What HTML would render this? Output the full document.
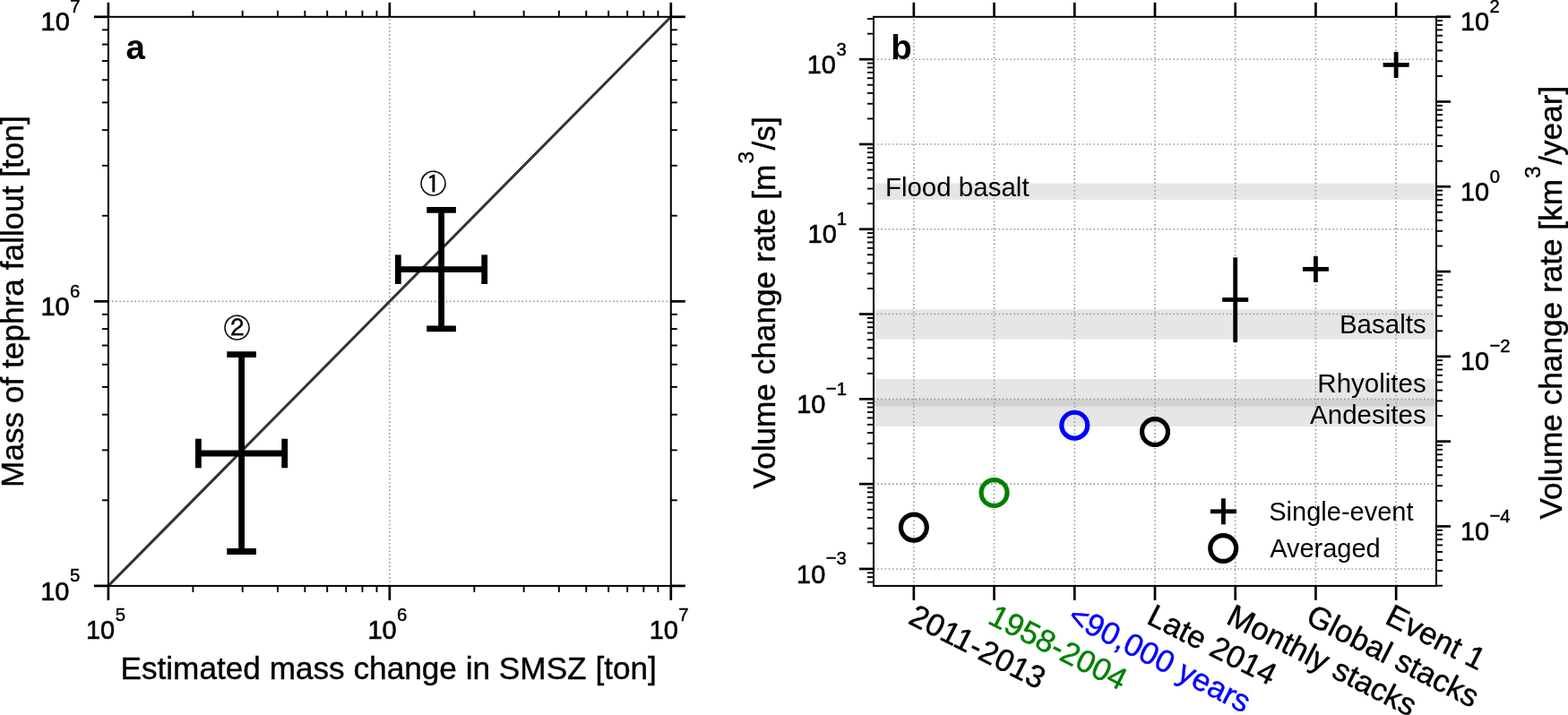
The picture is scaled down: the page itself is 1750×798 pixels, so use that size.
<!DOCTYPE html>
<html><head><meta charset="utf-8"><title>Figure</title>
<style>
html,body{margin:0;padding:0;background:#fff;overflow:hidden;}
svg{display:block;}
text{font-family:'Liberation Sans', Arial, Helvetica, sans-serif;}
</style></head>
<body>
<svg width="1750" height="798" viewBox="0 0 1750 798">
<rect x="0" y="0" width="1750" height="798" fill="#fff"/>
<line x1="434.85" y1="653.9" x2="434.85" y2="18.8" stroke="#9c9c9c" stroke-width="1.6" stroke-dasharray="1.6 2.6356" stroke-dashoffset="0.2"/>
<line x1="120.9" y1="336.35" x2="748.8" y2="336.35" stroke="#9c9c9c" stroke-width="1.6" stroke-dasharray="1.6 2.6356" stroke-dashoffset="0.2"/>
<line x1="120.90" y1="653.90" x2="748.80" y2="18.80" stroke="#333333" stroke-width="3.0" />
<line x1="492.60" y1="234.30" x2="492.60" y2="366.90" stroke="#000" stroke-width="6.8" />
<line x1="444.30" y1="300.70" x2="540.70" y2="300.70" stroke="#000" stroke-width="6.8" />
<line x1="476.30" y1="234.30" x2="508.90" y2="234.30" stroke="#000" stroke-width="6.8" />
<line x1="476.30" y1="366.90" x2="508.90" y2="366.90" stroke="#000" stroke-width="6.8" />
<line x1="444.30" y1="284.40" x2="444.30" y2="317.00" stroke="#000" stroke-width="6.8" />
<line x1="540.70" y1="284.40" x2="540.70" y2="317.00" stroke="#000" stroke-width="6.8" />
<line x1="269.60" y1="395.60" x2="269.60" y2="615.50" stroke="#000" stroke-width="6.8" />
<line x1="221.40" y1="506.00" x2="317.70" y2="506.00" stroke="#000" stroke-width="6.8" />
<line x1="253.30" y1="395.60" x2="285.90" y2="395.60" stroke="#000" stroke-width="6.8" />
<line x1="253.30" y1="615.50" x2="285.90" y2="615.50" stroke="#000" stroke-width="6.8" />
<line x1="221.40" y1="489.70" x2="221.40" y2="522.30" stroke="#000" stroke-width="6.8" />
<line x1="317.70" y1="489.70" x2="317.70" y2="522.30" stroke="#000" stroke-width="6.8" />
<rect x="120.9" y="18.8" width="627.90" height="635.10" fill="none" stroke="#000" stroke-width="2.0"/>
<line x1="120.90" y1="653.90" x2="120.90" y2="669.90" stroke="#000" stroke-width="2.7" />
<line x1="120.90" y1="18.80" x2="120.90" y2="2.80" stroke="#000" stroke-width="2.7" />
<line x1="120.90" y1="653.90" x2="104.90" y2="653.90" stroke="#000" stroke-width="2.7" />
<line x1="748.80" y1="653.90" x2="764.80" y2="653.90" stroke="#000" stroke-width="2.7" />
<line x1="215.41" y1="653.90" x2="215.41" y2="660.90" stroke="#000" stroke-width="1.9" />
<line x1="215.41" y1="18.80" x2="215.41" y2="11.80" stroke="#000" stroke-width="1.9" />
<line x1="120.90" y1="558.31" x2="113.90" y2="558.31" stroke="#000" stroke-width="1.9" />
<line x1="748.80" y1="558.31" x2="755.80" y2="558.31" stroke="#000" stroke-width="1.9" />
<line x1="270.69" y1="653.90" x2="270.69" y2="660.90" stroke="#000" stroke-width="1.9" />
<line x1="270.69" y1="18.80" x2="270.69" y2="11.80" stroke="#000" stroke-width="1.9" />
<line x1="120.90" y1="502.39" x2="113.90" y2="502.39" stroke="#000" stroke-width="1.9" />
<line x1="748.80" y1="502.39" x2="755.80" y2="502.39" stroke="#000" stroke-width="1.9" />
<line x1="309.92" y1="653.90" x2="309.92" y2="660.90" stroke="#000" stroke-width="1.9" />
<line x1="309.92" y1="18.80" x2="309.92" y2="11.80" stroke="#000" stroke-width="1.9" />
<line x1="120.90" y1="462.72" x2="113.90" y2="462.72" stroke="#000" stroke-width="1.9" />
<line x1="748.80" y1="462.72" x2="755.80" y2="462.72" stroke="#000" stroke-width="1.9" />
<line x1="340.34" y1="653.90" x2="340.34" y2="660.90" stroke="#000" stroke-width="1.9" />
<line x1="340.34" y1="18.80" x2="340.34" y2="11.80" stroke="#000" stroke-width="1.9" />
<line x1="120.90" y1="431.94" x2="113.90" y2="431.94" stroke="#000" stroke-width="1.9" />
<line x1="748.80" y1="431.94" x2="755.80" y2="431.94" stroke="#000" stroke-width="1.9" />
<line x1="365.20" y1="653.90" x2="365.20" y2="660.90" stroke="#000" stroke-width="1.9" />
<line x1="365.20" y1="18.80" x2="365.20" y2="11.80" stroke="#000" stroke-width="1.9" />
<line x1="120.90" y1="406.80" x2="113.90" y2="406.80" stroke="#000" stroke-width="1.9" />
<line x1="748.80" y1="406.80" x2="755.80" y2="406.80" stroke="#000" stroke-width="1.9" />
<line x1="386.22" y1="653.90" x2="386.22" y2="660.90" stroke="#000" stroke-width="1.9" />
<line x1="386.22" y1="18.80" x2="386.22" y2="11.80" stroke="#000" stroke-width="1.9" />
<line x1="120.90" y1="385.54" x2="113.90" y2="385.54" stroke="#000" stroke-width="1.9" />
<line x1="748.80" y1="385.54" x2="755.80" y2="385.54" stroke="#000" stroke-width="1.9" />
<line x1="404.43" y1="653.90" x2="404.43" y2="660.90" stroke="#000" stroke-width="1.9" />
<line x1="404.43" y1="18.80" x2="404.43" y2="11.80" stroke="#000" stroke-width="1.9" />
<line x1="120.90" y1="367.12" x2="113.90" y2="367.12" stroke="#000" stroke-width="1.9" />
<line x1="748.80" y1="367.12" x2="755.80" y2="367.12" stroke="#000" stroke-width="1.9" />
<line x1="420.48" y1="653.90" x2="420.48" y2="660.90" stroke="#000" stroke-width="1.9" />
<line x1="420.48" y1="18.80" x2="420.48" y2="11.80" stroke="#000" stroke-width="1.9" />
<line x1="120.90" y1="350.88" x2="113.90" y2="350.88" stroke="#000" stroke-width="1.9" />
<line x1="748.80" y1="350.88" x2="755.80" y2="350.88" stroke="#000" stroke-width="1.9" />
<line x1="434.85" y1="653.90" x2="434.85" y2="669.90" stroke="#000" stroke-width="2.7" />
<line x1="434.85" y1="18.80" x2="434.85" y2="2.80" stroke="#000" stroke-width="2.7" />
<line x1="120.90" y1="336.35" x2="104.90" y2="336.35" stroke="#000" stroke-width="2.7" />
<line x1="748.80" y1="336.35" x2="764.80" y2="336.35" stroke="#000" stroke-width="2.7" />
<line x1="529.36" y1="653.90" x2="529.36" y2="660.90" stroke="#000" stroke-width="1.9" />
<line x1="529.36" y1="18.80" x2="529.36" y2="11.80" stroke="#000" stroke-width="1.9" />
<line x1="120.90" y1="240.76" x2="113.90" y2="240.76" stroke="#000" stroke-width="1.9" />
<line x1="748.80" y1="240.76" x2="755.80" y2="240.76" stroke="#000" stroke-width="1.9" />
<line x1="584.64" y1="653.90" x2="584.64" y2="660.90" stroke="#000" stroke-width="1.9" />
<line x1="584.64" y1="18.80" x2="584.64" y2="11.80" stroke="#000" stroke-width="1.9" />
<line x1="120.90" y1="184.84" x2="113.90" y2="184.84" stroke="#000" stroke-width="1.9" />
<line x1="748.80" y1="184.84" x2="755.80" y2="184.84" stroke="#000" stroke-width="1.9" />
<line x1="623.87" y1="653.90" x2="623.87" y2="660.90" stroke="#000" stroke-width="1.9" />
<line x1="623.87" y1="18.80" x2="623.87" y2="11.80" stroke="#000" stroke-width="1.9" />
<line x1="120.90" y1="145.17" x2="113.90" y2="145.17" stroke="#000" stroke-width="1.9" />
<line x1="748.80" y1="145.17" x2="755.80" y2="145.17" stroke="#000" stroke-width="1.9" />
<line x1="654.29" y1="653.90" x2="654.29" y2="660.90" stroke="#000" stroke-width="1.9" />
<line x1="654.29" y1="18.80" x2="654.29" y2="11.80" stroke="#000" stroke-width="1.9" />
<line x1="120.90" y1="114.39" x2="113.90" y2="114.39" stroke="#000" stroke-width="1.9" />
<line x1="748.80" y1="114.39" x2="755.80" y2="114.39" stroke="#000" stroke-width="1.9" />
<line x1="679.15" y1="653.90" x2="679.15" y2="660.90" stroke="#000" stroke-width="1.9" />
<line x1="679.15" y1="18.80" x2="679.15" y2="11.80" stroke="#000" stroke-width="1.9" />
<line x1="120.90" y1="89.25" x2="113.90" y2="89.25" stroke="#000" stroke-width="1.9" />
<line x1="748.80" y1="89.25" x2="755.80" y2="89.25" stroke="#000" stroke-width="1.9" />
<line x1="700.17" y1="653.90" x2="700.17" y2="660.90" stroke="#000" stroke-width="1.9" />
<line x1="700.17" y1="18.80" x2="700.17" y2="11.80" stroke="#000" stroke-width="1.9" />
<line x1="120.90" y1="67.99" x2="113.90" y2="67.99" stroke="#000" stroke-width="1.9" />
<line x1="748.80" y1="67.99" x2="755.80" y2="67.99" stroke="#000" stroke-width="1.9" />
<line x1="718.38" y1="653.90" x2="718.38" y2="660.90" stroke="#000" stroke-width="1.9" />
<line x1="718.38" y1="18.80" x2="718.38" y2="11.80" stroke="#000" stroke-width="1.9" />
<line x1="120.90" y1="49.57" x2="113.90" y2="49.57" stroke="#000" stroke-width="1.9" />
<line x1="748.80" y1="49.57" x2="755.80" y2="49.57" stroke="#000" stroke-width="1.9" />
<line x1="734.43" y1="653.90" x2="734.43" y2="660.90" stroke="#000" stroke-width="1.9" />
<line x1="734.43" y1="18.80" x2="734.43" y2="11.80" stroke="#000" stroke-width="1.9" />
<line x1="120.90" y1="33.33" x2="113.90" y2="33.33" stroke="#000" stroke-width="1.9" />
<line x1="748.80" y1="33.33" x2="755.80" y2="33.33" stroke="#000" stroke-width="1.9" />
<line x1="748.80" y1="653.90" x2="748.80" y2="669.90" stroke="#000" stroke-width="2.7" />
<line x1="748.80" y1="18.80" x2="748.80" y2="2.80" stroke="#000" stroke-width="2.7" />
<line x1="120.90" y1="18.80" x2="104.90" y2="18.80" stroke="#000" stroke-width="2.7" />
<line x1="748.80" y1="18.80" x2="764.80" y2="18.80" stroke="#000" stroke-width="2.7" />
<text x="0.00" y="0.00" font-size="29.0" transform="translate(45.15 669.50) scale(1 1.04)" stroke="#000" stroke-width="0.6">10</text>
<text x="0.00" y="0.00" font-size="20.3" transform="translate(77.96 649.30) scale(1 1.04)" stroke="#000" stroke-width="0.45">5</text>
<text x="0.00" y="0.00" font-size="29.0" transform="translate(45.41 351.95) scale(1 1.04)" stroke="#000" stroke-width="0.6">10</text>
<text x="0.00" y="0.00" font-size="20.3" transform="translate(78.00 331.75) scale(1 1.04)" stroke="#000" stroke-width="0.45">6</text>
<text x="0.00" y="0.00" font-size="29.0" transform="translate(45.55 34.40) scale(1 1.04)" stroke="#000" stroke-width="0.6">10</text>
<text x="0.00" y="0.00" font-size="20.3" transform="translate(78.13 14.20) scale(1 1.04)" stroke="#000" stroke-width="0.45">7</text>
<text x="0.00" y="0.00" font-size="29.0" transform="translate(95.99 713.10) scale(1 1.04)" stroke="#000" stroke-width="0.6">10</text>
<text x="0.00" y="0.00" font-size="20.3" transform="translate(128.80 692.90) scale(1 1.04)" stroke="#000" stroke-width="0.45">5</text>
<text x="0.00" y="0.00" font-size="29.0" transform="translate(410.39 713.10) scale(1 1.04)" stroke="#000" stroke-width="0.6">10</text>
<text x="0.00" y="0.00" font-size="20.3" transform="translate(442.98 692.90) scale(1 1.04)" stroke="#000" stroke-width="0.45">6</text>
<text x="0.00" y="0.00" font-size="29.0" transform="translate(724.69 713.10) scale(1 1.04)" stroke="#000" stroke-width="0.6">10</text>
<text x="0.00" y="0.00" font-size="20.3" transform="translate(757.27 692.90) scale(1 1.04)" stroke="#000" stroke-width="0.45">7</text>
<text x="134.41" y="757.90" font-size="35.2" stroke="#000" stroke-width="0.4">Estimated mass change in SMSZ [ton]</text>
<text x="0.00" y="0.00" font-size="35.2" stroke="#000" stroke-width="0.4" transform="translate(26.0 543.89) rotate(-90)">Mass of tephra fallout [ton]</text>
<text x="140.47" y="66.30" font-size="38.5" font-weight="bold">a</text>
<text x="483.60" y="215.60" font-size="30.1" text-anchor="middle" stroke="#000" stroke-width="0.25" style="font-family:'Liberation Sans', 'IPAGothic', 'Noto Sans CJK JP', sans-serif">①</text>
<text x="264.50" y="377.00" font-size="30.1" text-anchor="middle" stroke="#000" stroke-width="0.25" style="font-family:'Liberation Sans', 'IPAGothic', 'Noto Sans CJK JP', sans-serif">②</text>
<rect x="975.0" y="204.50" width="628.0" height="18.40" fill="#808080" fill-opacity="0.2"/>
<rect x="975.0" y="345.40" width="628.0" height="33.20" fill="#808080" fill-opacity="0.2"/>
<rect x="975.0" y="422.90" width="628.0" height="30.70" fill="#808080" fill-opacity="0.2"/>
<rect x="975.0" y="445.60" width="628.0" height="30.20" fill="#808080" fill-opacity="0.2"/>
<line x1="1019.86" y1="653.9" x2="1019.86" y2="18.8" stroke="#9c9c9c" stroke-width="1.6" stroke-dasharray="1.6 2.6356" stroke-dashoffset="0.2"/>
<line x1="1109.57" y1="653.9" x2="1109.57" y2="18.8" stroke="#9c9c9c" stroke-width="1.6" stroke-dasharray="1.6 2.6356" stroke-dashoffset="0.2"/>
<line x1="1199.29" y1="653.9" x2="1199.29" y2="18.8" stroke="#9c9c9c" stroke-width="1.6" stroke-dasharray="1.6 2.6356" stroke-dashoffset="0.2"/>
<line x1="1289.00" y1="653.9" x2="1289.00" y2="18.8" stroke="#9c9c9c" stroke-width="1.6" stroke-dasharray="1.6 2.6356" stroke-dashoffset="0.2"/>
<line x1="1378.71" y1="653.9" x2="1378.71" y2="18.8" stroke="#9c9c9c" stroke-width="1.6" stroke-dasharray="1.6 2.6356" stroke-dashoffset="0.2"/>
<line x1="1468.43" y1="653.9" x2="1468.43" y2="18.8" stroke="#9c9c9c" stroke-width="1.6" stroke-dasharray="1.6 2.6356" stroke-dashoffset="0.2"/>
<line x1="1558.14" y1="653.9" x2="1558.14" y2="18.8" stroke="#9c9c9c" stroke-width="1.6" stroke-dasharray="1.6 2.6356" stroke-dashoffset="0.2"/>
<line x1="975.0" y1="634.94" x2="1603.0" y2="634.94" stroke="#9c9c9c" stroke-width="1.6" stroke-dasharray="1.6 2.6356" stroke-dashoffset="0.2"/>
<line x1="975.0" y1="540.15" x2="1603.0" y2="540.15" stroke="#9c9c9c" stroke-width="1.6" stroke-dasharray="1.6 2.6356" stroke-dashoffset="0.2"/>
<line x1="975.0" y1="445.36" x2="1603.0" y2="445.36" stroke="#9c9c9c" stroke-width="1.6" stroke-dasharray="1.6 2.6356" stroke-dashoffset="0.2"/>
<line x1="975.0" y1="350.57" x2="1603.0" y2="350.57" stroke="#9c9c9c" stroke-width="1.6" stroke-dasharray="1.6 2.6356" stroke-dashoffset="0.2"/>
<line x1="975.0" y1="255.78" x2="1603.0" y2="255.78" stroke="#9c9c9c" stroke-width="1.6" stroke-dasharray="1.6 2.6356" stroke-dashoffset="0.2"/>
<line x1="975.0" y1="160.99" x2="1603.0" y2="160.99" stroke="#9c9c9c" stroke-width="1.6" stroke-dasharray="1.6 2.6356" stroke-dashoffset="0.2"/>
<line x1="975.0" y1="66.20" x2="1603.0" y2="66.20" stroke="#9c9c9c" stroke-width="1.6" stroke-dasharray="1.6 2.6356" stroke-dashoffset="0.2"/>
<circle cx="1019.86" cy="588.60" r="14.45" fill="none" stroke="#000" stroke-width="5.2"/>
<circle cx="1109.57" cy="550.00" r="14.45" fill="none" stroke="#008000" stroke-width="5.2"/>
<circle cx="1199.29" cy="474.70" r="14.45" fill="none" stroke="#0000ff" stroke-width="5.2"/>
<circle cx="1289.00" cy="482.00" r="14.45" fill="none" stroke="#000" stroke-width="5.2"/>
<line x1="1378.71" y1="287.30" x2="1378.71" y2="382.00" stroke="#000" stroke-width="4.8" />
<line x1="1364.21" y1="334.50" x2="1393.21" y2="334.50" stroke="#000" stroke-width="4.8" />
<line x1="1453.93" y1="300.40" x2="1482.93" y2="300.40" stroke="#000" stroke-width="4.8" />
<line x1="1468.43" y1="285.90" x2="1468.43" y2="314.90" stroke="#000" stroke-width="4.8" />
<line x1="1543.64" y1="72.40" x2="1572.64" y2="72.40" stroke="#000" stroke-width="4.8" />
<line x1="1558.14" y1="57.90" x2="1558.14" y2="86.90" stroke="#000" stroke-width="4.8" />
<text x="987.88" y="218.70" font-size="29.5">Flood basalt</text>
<text x="1494.93" y="372.00" font-size="29.5">Basalts</text>
<text x="1470.34" y="437.70" font-size="29.5">Rhyolites</text>
<text x="1462.11" y="472.50" font-size="29.5">Andesites</text>
<line x1="1350.90" y1="570.80" x2="1379.90" y2="570.80" stroke="#000" stroke-width="4.8" />
<line x1="1365.40" y1="556.30" x2="1365.40" y2="585.30" stroke="#000" stroke-width="4.8" />
<circle cx="1365.20" cy="612.00" r="14.45" fill="none" stroke="#000" stroke-width="5.2"/>
<text x="1416.28" y="581.30" font-size="29">Single-event</text>
<text x="1417.14" y="621.90" font-size="29">Averaged</text>
<rect x="975.0" y="18.8" width="628.0" height="635.10" fill="none" stroke="#000" stroke-width="2.0"/>
<line x1="1019.86" y1="653.90" x2="1019.86" y2="669.90" stroke="#000" stroke-width="2.7" />
<line x1="1019.86" y1="18.80" x2="1019.86" y2="2.80" stroke="#000" stroke-width="2.7" />
<line x1="1109.57" y1="653.90" x2="1109.57" y2="669.90" stroke="#000" stroke-width="2.7" />
<line x1="1109.57" y1="18.80" x2="1109.57" y2="2.80" stroke="#000" stroke-width="2.7" />
<line x1="1199.29" y1="653.90" x2="1199.29" y2="669.90" stroke="#000" stroke-width="2.7" />
<line x1="1199.29" y1="18.80" x2="1199.29" y2="2.80" stroke="#000" stroke-width="2.7" />
<line x1="1289.00" y1="653.90" x2="1289.00" y2="669.90" stroke="#000" stroke-width="2.7" />
<line x1="1289.00" y1="18.80" x2="1289.00" y2="2.80" stroke="#000" stroke-width="2.7" />
<line x1="1378.71" y1="653.90" x2="1378.71" y2="669.90" stroke="#000" stroke-width="2.7" />
<line x1="1378.71" y1="18.80" x2="1378.71" y2="2.80" stroke="#000" stroke-width="2.7" />
<line x1="1468.43" y1="653.90" x2="1468.43" y2="669.90" stroke="#000" stroke-width="2.7" />
<line x1="1468.43" y1="18.80" x2="1468.43" y2="2.80" stroke="#000" stroke-width="2.7" />
<line x1="1558.14" y1="653.90" x2="1558.14" y2="669.90" stroke="#000" stroke-width="2.7" />
<line x1="1558.14" y1="18.80" x2="1558.14" y2="2.80" stroke="#000" stroke-width="2.7" />
<line x1="975.00" y1="649.63" x2="968.00" y2="649.63" stroke="#000" stroke-width="1.9" />
<line x1="975.00" y1="644.13" x2="968.00" y2="644.13" stroke="#000" stroke-width="1.9" />
<line x1="975.00" y1="639.28" x2="968.00" y2="639.28" stroke="#000" stroke-width="1.9" />
<line x1="975.00" y1="634.94" x2="959.00" y2="634.94" stroke="#000" stroke-width="2.7" />
<line x1="975.00" y1="606.41" x2="968.00" y2="606.41" stroke="#000" stroke-width="1.9" />
<line x1="975.00" y1="589.71" x2="968.00" y2="589.71" stroke="#000" stroke-width="1.9" />
<line x1="975.00" y1="577.87" x2="968.00" y2="577.87" stroke="#000" stroke-width="1.9" />
<line x1="975.00" y1="568.69" x2="968.00" y2="568.69" stroke="#000" stroke-width="1.9" />
<line x1="975.00" y1="561.18" x2="968.00" y2="561.18" stroke="#000" stroke-width="1.9" />
<line x1="975.00" y1="554.83" x2="968.00" y2="554.83" stroke="#000" stroke-width="1.9" />
<line x1="975.00" y1="549.34" x2="968.00" y2="549.34" stroke="#000" stroke-width="1.9" />
<line x1="975.00" y1="544.49" x2="968.00" y2="544.49" stroke="#000" stroke-width="1.9" />
<line x1="975.00" y1="540.15" x2="959.00" y2="540.15" stroke="#000" stroke-width="2.7" />
<line x1="975.00" y1="511.62" x2="968.00" y2="511.62" stroke="#000" stroke-width="1.9" />
<line x1="975.00" y1="494.92" x2="968.00" y2="494.92" stroke="#000" stroke-width="1.9" />
<line x1="975.00" y1="483.08" x2="968.00" y2="483.08" stroke="#000" stroke-width="1.9" />
<line x1="975.00" y1="473.89" x2="968.00" y2="473.89" stroke="#000" stroke-width="1.9" />
<line x1="975.00" y1="466.39" x2="968.00" y2="466.39" stroke="#000" stroke-width="1.9" />
<line x1="975.00" y1="460.04" x2="968.00" y2="460.04" stroke="#000" stroke-width="1.9" />
<line x1="975.00" y1="454.55" x2="968.00" y2="454.55" stroke="#000" stroke-width="1.9" />
<line x1="975.00" y1="449.70" x2="968.00" y2="449.70" stroke="#000" stroke-width="1.9" />
<line x1="975.00" y1="445.36" x2="959.00" y2="445.36" stroke="#000" stroke-width="2.7" />
<line x1="975.00" y1="416.82" x2="968.00" y2="416.82" stroke="#000" stroke-width="1.9" />
<line x1="975.00" y1="400.13" x2="968.00" y2="400.13" stroke="#000" stroke-width="1.9" />
<line x1="975.00" y1="388.29" x2="968.00" y2="388.29" stroke="#000" stroke-width="1.9" />
<line x1="975.00" y1="379.10" x2="968.00" y2="379.10" stroke="#000" stroke-width="1.9" />
<line x1="975.00" y1="371.60" x2="968.00" y2="371.60" stroke="#000" stroke-width="1.9" />
<line x1="975.00" y1="365.25" x2="968.00" y2="365.25" stroke="#000" stroke-width="1.9" />
<line x1="975.00" y1="359.75" x2="968.00" y2="359.75" stroke="#000" stroke-width="1.9" />
<line x1="975.00" y1="354.91" x2="968.00" y2="354.91" stroke="#000" stroke-width="1.9" />
<line x1="975.00" y1="350.57" x2="959.00" y2="350.57" stroke="#000" stroke-width="2.7" />
<line x1="975.00" y1="322.03" x2="968.00" y2="322.03" stroke="#000" stroke-width="1.9" />
<line x1="975.00" y1="305.34" x2="968.00" y2="305.34" stroke="#000" stroke-width="1.9" />
<line x1="975.00" y1="293.50" x2="968.00" y2="293.50" stroke="#000" stroke-width="1.9" />
<line x1="975.00" y1="284.31" x2="968.00" y2="284.31" stroke="#000" stroke-width="1.9" />
<line x1="975.00" y1="276.81" x2="968.00" y2="276.81" stroke="#000" stroke-width="1.9" />
<line x1="975.00" y1="270.46" x2="968.00" y2="270.46" stroke="#000" stroke-width="1.9" />
<line x1="975.00" y1="264.96" x2="968.00" y2="264.96" stroke="#000" stroke-width="1.9" />
<line x1="975.00" y1="260.12" x2="968.00" y2="260.12" stroke="#000" stroke-width="1.9" />
<line x1="975.00" y1="255.78" x2="959.00" y2="255.78" stroke="#000" stroke-width="2.7" />
<line x1="975.00" y1="227.24" x2="968.00" y2="227.24" stroke="#000" stroke-width="1.9" />
<line x1="975.00" y1="210.55" x2="968.00" y2="210.55" stroke="#000" stroke-width="1.9" />
<line x1="975.00" y1="198.71" x2="968.00" y2="198.71" stroke="#000" stroke-width="1.9" />
<line x1="975.00" y1="189.52" x2="968.00" y2="189.52" stroke="#000" stroke-width="1.9" />
<line x1="975.00" y1="182.02" x2="968.00" y2="182.02" stroke="#000" stroke-width="1.9" />
<line x1="975.00" y1="175.67" x2="968.00" y2="175.67" stroke="#000" stroke-width="1.9" />
<line x1="975.00" y1="170.17" x2="968.00" y2="170.17" stroke="#000" stroke-width="1.9" />
<line x1="975.00" y1="165.32" x2="968.00" y2="165.32" stroke="#000" stroke-width="1.9" />
<line x1="975.00" y1="160.99" x2="959.00" y2="160.99" stroke="#000" stroke-width="2.7" />
<line x1="975.00" y1="132.45" x2="968.00" y2="132.45" stroke="#000" stroke-width="1.9" />
<line x1="975.00" y1="115.76" x2="968.00" y2="115.76" stroke="#000" stroke-width="1.9" />
<line x1="975.00" y1="103.92" x2="968.00" y2="103.92" stroke="#000" stroke-width="1.9" />
<line x1="975.00" y1="94.73" x2="968.00" y2="94.73" stroke="#000" stroke-width="1.9" />
<line x1="975.00" y1="87.22" x2="968.00" y2="87.22" stroke="#000" stroke-width="1.9" />
<line x1="975.00" y1="80.88" x2="968.00" y2="80.88" stroke="#000" stroke-width="1.9" />
<line x1="975.00" y1="75.38" x2="968.00" y2="75.38" stroke="#000" stroke-width="1.9" />
<line x1="975.00" y1="70.53" x2="968.00" y2="70.53" stroke="#000" stroke-width="1.9" />
<line x1="975.00" y1="66.20" x2="959.00" y2="66.20" stroke="#000" stroke-width="2.7" />
<line x1="975.00" y1="37.66" x2="968.00" y2="37.66" stroke="#000" stroke-width="1.9" />
<line x1="975.00" y1="20.97" x2="968.00" y2="20.97" stroke="#000" stroke-width="1.9" />
<line x1="1603.00" y1="653.69" x2="1610.00" y2="653.69" stroke="#000" stroke-width="1.9" />
<line x1="1603.00" y1="637.00" x2="1610.00" y2="637.00" stroke="#000" stroke-width="1.9" />
<line x1="1603.00" y1="625.15" x2="1610.00" y2="625.15" stroke="#000" stroke-width="1.9" />
<line x1="1603.00" y1="615.97" x2="1610.00" y2="615.97" stroke="#000" stroke-width="1.9" />
<line x1="1603.00" y1="608.46" x2="1610.00" y2="608.46" stroke="#000" stroke-width="1.9" />
<line x1="1603.00" y1="602.12" x2="1610.00" y2="602.12" stroke="#000" stroke-width="1.9" />
<line x1="1603.00" y1="596.62" x2="1610.00" y2="596.62" stroke="#000" stroke-width="1.9" />
<line x1="1603.00" y1="591.77" x2="1610.00" y2="591.77" stroke="#000" stroke-width="1.9" />
<line x1="1603.00" y1="587.43" x2="1619.00" y2="587.43" stroke="#000" stroke-width="2.7" />
<line x1="1603.00" y1="558.90" x2="1610.00" y2="558.90" stroke="#000" stroke-width="1.9" />
<line x1="1603.00" y1="542.21" x2="1610.00" y2="542.21" stroke="#000" stroke-width="1.9" />
<line x1="1603.00" y1="530.36" x2="1610.00" y2="530.36" stroke="#000" stroke-width="1.9" />
<line x1="1603.00" y1="521.18" x2="1610.00" y2="521.18" stroke="#000" stroke-width="1.9" />
<line x1="1603.00" y1="513.67" x2="1610.00" y2="513.67" stroke="#000" stroke-width="1.9" />
<line x1="1603.00" y1="507.33" x2="1610.00" y2="507.33" stroke="#000" stroke-width="1.9" />
<line x1="1603.00" y1="501.83" x2="1610.00" y2="501.83" stroke="#000" stroke-width="1.9" />
<line x1="1603.00" y1="496.98" x2="1610.00" y2="496.98" stroke="#000" stroke-width="1.9" />
<line x1="1603.00" y1="492.64" x2="1619.00" y2="492.64" stroke="#000" stroke-width="2.7" />
<line x1="1603.00" y1="464.11" x2="1610.00" y2="464.11" stroke="#000" stroke-width="1.9" />
<line x1="1603.00" y1="447.42" x2="1610.00" y2="447.42" stroke="#000" stroke-width="1.9" />
<line x1="1603.00" y1="435.57" x2="1610.00" y2="435.57" stroke="#000" stroke-width="1.9" />
<line x1="1603.00" y1="426.39" x2="1610.00" y2="426.39" stroke="#000" stroke-width="1.9" />
<line x1="1603.00" y1="418.88" x2="1610.00" y2="418.88" stroke="#000" stroke-width="1.9" />
<line x1="1603.00" y1="412.53" x2="1610.00" y2="412.53" stroke="#000" stroke-width="1.9" />
<line x1="1603.00" y1="407.04" x2="1610.00" y2="407.04" stroke="#000" stroke-width="1.9" />
<line x1="1603.00" y1="402.19" x2="1610.00" y2="402.19" stroke="#000" stroke-width="1.9" />
<line x1="1603.00" y1="397.85" x2="1619.00" y2="397.85" stroke="#000" stroke-width="2.7" />
<line x1="1603.00" y1="369.32" x2="1610.00" y2="369.32" stroke="#000" stroke-width="1.9" />
<line x1="1603.00" y1="352.62" x2="1610.00" y2="352.62" stroke="#000" stroke-width="1.9" />
<line x1="1603.00" y1="340.78" x2="1610.00" y2="340.78" stroke="#000" stroke-width="1.9" />
<line x1="1603.00" y1="331.59" x2="1610.00" y2="331.59" stroke="#000" stroke-width="1.9" />
<line x1="1603.00" y1="324.09" x2="1610.00" y2="324.09" stroke="#000" stroke-width="1.9" />
<line x1="1603.00" y1="317.74" x2="1610.00" y2="317.74" stroke="#000" stroke-width="1.9" />
<line x1="1603.00" y1="312.25" x2="1610.00" y2="312.25" stroke="#000" stroke-width="1.9" />
<line x1="1603.00" y1="307.40" x2="1610.00" y2="307.40" stroke="#000" stroke-width="1.9" />
<line x1="1603.00" y1="303.06" x2="1619.00" y2="303.06" stroke="#000" stroke-width="2.7" />
<line x1="1603.00" y1="274.53" x2="1610.00" y2="274.53" stroke="#000" stroke-width="1.9" />
<line x1="1603.00" y1="257.83" x2="1610.00" y2="257.83" stroke="#000" stroke-width="1.9" />
<line x1="1603.00" y1="245.99" x2="1610.00" y2="245.99" stroke="#000" stroke-width="1.9" />
<line x1="1603.00" y1="236.80" x2="1610.00" y2="236.80" stroke="#000" stroke-width="1.9" />
<line x1="1603.00" y1="229.30" x2="1610.00" y2="229.30" stroke="#000" stroke-width="1.9" />
<line x1="1603.00" y1="222.95" x2="1610.00" y2="222.95" stroke="#000" stroke-width="1.9" />
<line x1="1603.00" y1="217.46" x2="1610.00" y2="217.46" stroke="#000" stroke-width="1.9" />
<line x1="1603.00" y1="212.61" x2="1610.00" y2="212.61" stroke="#000" stroke-width="1.9" />
<line x1="1603.00" y1="208.27" x2="1619.00" y2="208.27" stroke="#000" stroke-width="2.7" />
<line x1="1603.00" y1="179.73" x2="1610.00" y2="179.73" stroke="#000" stroke-width="1.9" />
<line x1="1603.00" y1="163.04" x2="1610.00" y2="163.04" stroke="#000" stroke-width="1.9" />
<line x1="1603.00" y1="151.20" x2="1610.00" y2="151.20" stroke="#000" stroke-width="1.9" />
<line x1="1603.00" y1="142.01" x2="1610.00" y2="142.01" stroke="#000" stroke-width="1.9" />
<line x1="1603.00" y1="134.51" x2="1610.00" y2="134.51" stroke="#000" stroke-width="1.9" />
<line x1="1603.00" y1="128.16" x2="1610.00" y2="128.16" stroke="#000" stroke-width="1.9" />
<line x1="1603.00" y1="122.66" x2="1610.00" y2="122.66" stroke="#000" stroke-width="1.9" />
<line x1="1603.00" y1="117.82" x2="1610.00" y2="117.82" stroke="#000" stroke-width="1.9" />
<line x1="1603.00" y1="113.48" x2="1619.00" y2="113.48" stroke="#000" stroke-width="2.7" />
<line x1="1603.00" y1="84.94" x2="1610.00" y2="84.94" stroke="#000" stroke-width="1.9" />
<line x1="1603.00" y1="68.25" x2="1610.00" y2="68.25" stroke="#000" stroke-width="1.9" />
<line x1="1603.00" y1="56.41" x2="1610.00" y2="56.41" stroke="#000" stroke-width="1.9" />
<line x1="1603.00" y1="47.22" x2="1610.00" y2="47.22" stroke="#000" stroke-width="1.9" />
<line x1="1603.00" y1="39.72" x2="1610.00" y2="39.72" stroke="#000" stroke-width="1.9" />
<line x1="1603.00" y1="33.37" x2="1610.00" y2="33.37" stroke="#000" stroke-width="1.9" />
<line x1="1603.00" y1="27.87" x2="1610.00" y2="27.87" stroke="#000" stroke-width="1.9" />
<line x1="1603.00" y1="23.02" x2="1610.00" y2="23.02" stroke="#000" stroke-width="1.9" />
<line x1="1603.00" y1="18.69" x2="1619.00" y2="18.69" stroke="#000" stroke-width="2.7" />
<text x="0.00" y="0.00" font-size="29.0" transform="translate(900.75 81.90) scale(1 1.04)" stroke="#000" stroke-width="0.6">10</text>
<text x="0.00" y="0.00" font-size="20.3" transform="translate(933.60 61.70) scale(1 1.04)" stroke="#000" stroke-width="0.45">3</text>
<text x="0.00" y="0.00" font-size="29.0" transform="translate(901.62 271.48) scale(1 1.04)" stroke="#000" stroke-width="0.6">10</text>
<text x="0.00" y="0.00" font-size="20.3" transform="translate(933.70 251.28) scale(1 1.04)" stroke="#000" stroke-width="0.45">1</text>
<text x="0.00" y="0.00" font-size="29.0" transform="translate(889.22 461.06) scale(1 1.04)" stroke="#000" stroke-width="0.6">10</text>
<text x="0.00" y="0.00" font-size="20.3" transform="translate(921.85 440.86) scale(1 1.04)" stroke="#000" stroke-width="0.45">−1</text>
<text x="0.00" y="0.00" font-size="29.0" transform="translate(889.12 650.64) scale(1 1.04)" stroke="#000" stroke-width="0.6">10</text>
<text x="0.00" y="0.00" font-size="20.3" transform="translate(921.75 630.44) scale(1 1.04)" stroke="#000" stroke-width="0.45">−3</text>
<text x="0.00" y="0.00" font-size="29.0" transform="translate(1629.89 34.29) scale(1 1.04)" stroke="#000" stroke-width="0.6">10</text>
<text x="0.00" y="0.00" font-size="20.3" transform="translate(1662.49 14.09) scale(1 1.04)" stroke="#000" stroke-width="0.45">2</text>
<text x="0.00" y="0.00" font-size="29.0" transform="translate(1629.89 223.87) scale(1 1.04)" stroke="#000" stroke-width="0.6">10</text>
<text x="0.00" y="0.00" font-size="20.3" transform="translate(1662.72 203.67) scale(1 1.04)" stroke="#000" stroke-width="0.45">0</text>
<text x="0.00" y="0.00" font-size="29.0" transform="translate(1629.89 413.45) scale(1 1.04)" stroke="#000" stroke-width="0.6">10</text>
<text x="0.00" y="0.00" font-size="20.3" transform="translate(1662.51 393.25) scale(1 1.04)" stroke="#000" stroke-width="0.45">−2</text>
<text x="0.00" y="0.00" font-size="29.0" transform="translate(1629.89 603.03) scale(1 1.04)" stroke="#000" stroke-width="0.6">10</text>
<text x="0.00" y="0.00" font-size="20.3" transform="translate(1662.51 582.83) scale(1 1.04)" stroke="#000" stroke-width="0.45">−4</text>
<text x="994.36" y="65.60" font-size="38.5" font-weight="bold">b</text>
<text x="0" y="0" font-size="35.2" stroke="#000" stroke-width="0.4" transform="translate(865.40 545.45) rotate(-90)">Volume change rate [m<tspan font-size="24.6" dx="1.0" dy="-24.6">3</tspan><tspan dx="1.5" dy="24.6">/s]</tspan></text>
<text x="0" y="0" font-size="35.2" stroke="#000" stroke-width="0.4" transform="translate(1743.20 579.45) rotate(-90)">Volume change rate [km<tspan font-size="24.6" dx="1.0" dy="-24.6">3</tspan><tspan dx="1.5" dy="24.6">/year]</tspan></text>
<text x="0.00" y="0.00" font-size="35" stroke="#000" stroke-width="0.4" transform="translate(1012.36 695.0) rotate(27)">2011-2013</text>
<text x="0.00" y="0.00" font-size="35" fill="#008000" stroke="#008000" stroke-width="0.4" transform="translate(1101.02 695.0) rotate(27)">1958-2004</text>
<text x="0.00" y="0.00" font-size="35" fill="#0000ff" stroke="#0000ff" stroke-width="0.4" transform="translate(1189.69 695.0) rotate(27)">&lt;90,000 years</text>
<text x="0.00" y="0.00" font-size="35" stroke="#000" stroke-width="0.4" transform="translate(1278.35 695.0) rotate(27)">Late 2014</text>
<text x="0.00" y="0.00" font-size="35" stroke="#000" stroke-width="0.4" transform="translate(1367.01 695.0) rotate(27)">Monthly stacks</text>
<text x="0.00" y="0.00" font-size="35" stroke="#000" stroke-width="0.4" transform="translate(1455.68 695.0) rotate(27)">Global stacks</text>
<text x="0.00" y="0.00" font-size="35" stroke="#000" stroke-width="0.4" transform="translate(1544.34 695.0) rotate(27)">Event 1</text>
</svg>
</body></html>
